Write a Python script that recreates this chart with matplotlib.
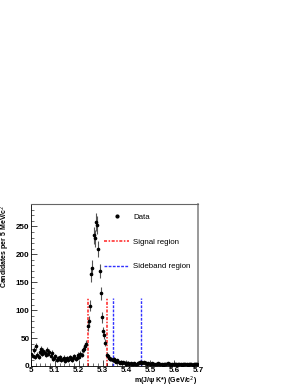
import numpy as np
import matplotlib
matplotlib.use("Agg")
import matplotlib.pyplot as plt
from matplotlib.lines import Line2D

plt.rcParams['font.family'] = ['Liberation Sans', 'DejaVu Sans']

bin_lo = 5.0
bin_width = 0.005
counts = [22, 18, 28, 16, 35, 20, 17, 25, 30, 22, 27, 24, 20, 28, 22, 25, 18, 24, 12, 15,
          18, 10, 14, 12, 16, 10, 13, 15, 9, 12, 14, 11, 16, 12, 10, 14, 18, 12, 15, 20,
          16, 22, 20, 28, 30, 36, 40, 71, 81, 108, 164, 176, 234, 229, 258, 253, 209, 170, 130, 87,
          62, 55, 42, 20, 18, 15, 13, 12, 10, 12, 9, 8, 10, 7, 6, 8, 5, 7, 6, 4,
          5, 6, 4, 5, 3, 4, 5, 3, 4, 6, 5, 7, 8, 6, 7, 5, 6, 4, 5, 3,
          4, 5, 3, 4, 4, 3, 5, 4, 3, 4, 2, 3, 4, 3, 5, 3, 4, 2, 3, 4,
          3, 4, 2, 3, 4, 3, 2, 4, 3, 3, 4, 2, 3, 4, 3, 2, 3, 4, 3, 4]
signal_edges = [5.24, 5.32]
sideband_edges = [5.345, 5.46]
line_height = 122

counts = np.array(counts, dtype=float)
centers = bin_lo + bin_width * (np.arange(len(counts)) + 0.5)
errs = np.sqrt(counts)

fig = plt.figure(figsize=(3.0, 3.88), dpi=100)
ax = fig.add_axes([0.103, 22 / 388, 0.557, 162 / 388])

red_style = (0, (2, 1, 1, 1))
blue_style = (0, (2, 1))
for x in signal_edges:
    ax.plot([x, x], [0, line_height], color='#ff2020', linestyle=red_style,
            linewidth=1.1, zorder=1)
for x in sideband_edges:
    ax.plot([x, x], [0, line_height], color='#3030ff', linestyle=blue_style,
            linewidth=1.0, zorder=1)

ax.errorbar(centers, counts, yerr=errs, fmt='o', ms=1.6, color='black',
            ecolor='#555555', elinewidth=0.8, capsize=0, zorder=3)

ax.set_xlim(5.0, 5.7)
ax.set_ylim(0, 290)
ax.set_xticks([5.0, 5.1, 5.2, 5.3, 5.4, 5.5, 5.6, 5.7])
ax.set_xticklabels(['5', '5.1', '5.2', '5.3', '5.4', '5.5', '5.6', '5.7'])
ax.set_yticks([0, 50, 100, 150, 200, 250])
ax.set_xticks(np.arange(5.0, 5.701, 0.02), minor=True)
ax.set_yticks(np.arange(0, 290, 10), minor=True)
ax.tick_params(axis='both', which='major', direction='in', length=4, width=0.5,
               labelsize=5.8, top=False, right=False)
ax.tick_params(axis='x', which='major', pad=0.8)
ax.tick_params(axis='y', which='major', pad=1.0)
ax.tick_params(axis='both', which='minor', direction='in', length=2, width=0.4,
               top=False, right=False)
for lab in ax.get_xticklabels() + ax.get_yticklabels():
    lab.set_fontweight('bold')

for s in ['left', 'bottom']:
    ax.spines[s].set_color('black')
    ax.spines[s].set_linewidth(0.6)
ax.spines['top'].set_color('#666666')
ax.spines['top'].set_linewidth(0.8)
ax.spines['right'].set_color('#888888')
ax.spines['right'].set_linewidth(1.2)

fig.text(0.018, 1 - 205 / 388, 'Candidates per 5 MeV/c$^{2}$', fontsize=5,
         fontweight='bold', rotation=90, ha='center', va='top')
fig.text(197 / 300, 1 - 381 / 388, 'm(J/\u03c8 K*) (GeV/c$^{2}$)', fontsize=5,
         fontweight='bold', ha='right', va='center')

handles = [
    Line2D([], [], marker='o', ms=2, color='black', linestyle='none'),
    Line2D([], [], color='#ff2020', linestyle=red_style, linewidth=1.1),
    Line2D([], [], color='#3030ff', linestyle=blue_style, linewidth=1.0),
]
labels = ['Data', 'Signal region', 'Sideband region']
fig.legend(handles, labels, loc='upper left', bbox_to_anchor=(104 / 300, 1 - 213 / 388),
           frameon=False, fontsize=5.7, handlelength=3.2, handletextpad=0.5,
           labelspacing=2.2, borderpad=0, borderaxespad=0)

fig.savefig('out.png', dpi=100)
